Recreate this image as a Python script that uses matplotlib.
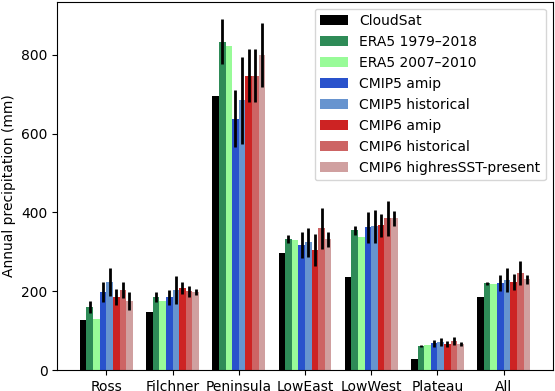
import numpy as np
import matplotlib.pyplot as plt

regions = ['Ross', 'Filchner', 'Peninsula', 'LowEast', 'LowWest', 'Plateau', 'All']
labels = ['CloudSat', 'ERA5 1979\u20132018', 'ERA5 2007\u20132010', 'CMIP5 amip',
          'CMIP5 historical', 'CMIP6 amip', 'CMIP6 historical', 'CMIP6 highresSST-present']
colors = ['#000000', '#2e8b57', '#98fb98', '#2952cc', '#6794cf', '#cd2323', '#cd6464', '#d0a0a0']

# annual precipitation (mm), one list per dataset, ordered as regions
cloudsat = [127, 147, 694, 296, 235, 28, 185]
era5_long = [160, 185, 833, 332, 354, 61, 220]
era5_short = [129, 175, 823, 329, 337, 63, 218]
cmip5_amip = [198, 185, 638, 316, 362, 68, 220]
cmip5_hist = [223, 203, 684, 324, 365, 71, 228]
cmip6_amip = [185, 208, 747, 304, 367, 66, 223]
cmip6_hist = [203, 200, 747, 360, 385, 73, 246]
cmip6_hires = [175, 198, 800, 332, 385, 66, 230]

# error bar half-widths (None = no error bar)
era5_long_err = [16, 12, 57, 10, 11, 3, 4]
cmip5_amip_err = [26, 19, 72, 33, 39, 9, 20]
cmip5_hist_err = [35, 35, 110, 37, 42, 11, 30]
cmip6_amip_err = [20, 16, 67, 40, 30, 8, 21]
cmip6_hist_err = [20, 14, 67, 52, 45, 10, 30]
cmip6_hires_err = [22, 8, 81, 19, 19, 5, 12]

values = [cloudsat, era5_long, era5_short, cmip5_amip, cmip5_hist,
          cmip6_amip, cmip6_hist, cmip6_hires]
errors = [None, era5_long_err, None, cmip5_amip_err, cmip5_hist_err,
          cmip6_amip_err, cmip6_hist_err, cmip6_hires_err]

fig = plt.figure(figsize=(5.55, 3.91), dpi=100)
ax = fig.add_axes([0.1032, 0.0537, 0.8927, 0.942])

x = np.arange(len(regions))
w = 0.1
for i in range(len(values)):
    pos = x + (i - 3.5) * w
    ax.bar(pos, values[i], w, color=colors[i], label=labels[i])
    if errors[i] is not None:
        ax.errorbar(pos, values[i], yerr=errors[i], fmt='none', ecolor='black',
                    elinewidth=2, capsize=0)

ax.set_xticks(x)
ax.set_xticklabels(regions)
ax.set_ylabel('Annual precipitation (mm)')
ax.legend(loc='upper right')

plt.savefig('out.png')
